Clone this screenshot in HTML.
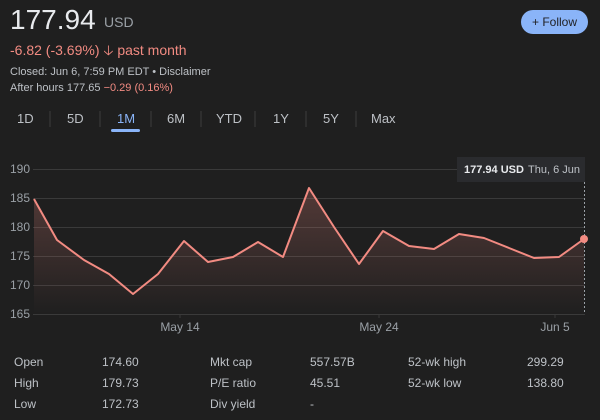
<!DOCTYPE html>
<html><head><meta charset="utf-8"><style>
body{margin:0;width:600px;height:420px;background:#1f1f1f;font-family:"Liberation Sans",Arial,sans-serif;overflow:hidden;position:relative}
.a{position:absolute;white-space:nowrap}
</style></head><body>
<div class="a" style="left:10px;top:4px;font-size:28px;color:#e8eaed">177.94</div>
<div class="a" style="left:104px;top:14px;font-size:14px;color:#9aa0a6">USD</div>
<div class="a" style="left:10px;top:40px;font-size:14px;color:#f28b82">-6.82 (-3.69%) &#129123; past month</div>
<div class="a" style="left:10px;top:66px;font-size:11px;color:#bdc1c6">Closed: Jun 6, 7:59 PM EDT • Disclaimer</div>
<div class="a" style="left:10px;top:82px;font-size:11px;color:#bdc1c6">After hours 177.65 <span style="color:#f28b82">−0.29 (0.16%)</span></div>
<div class="a" style="left:521px;top:10px;width:67px;height:24px;border-radius:12px;background:#8ab4f8;color:#202124;font-size:12px;line-height:24px;text-align:center">+ Follow</div>
<div class="a" style="left:0;top:111px;font-size:13px;color:#bdc1c6;width:420px;height:20px">
<span class="a" style="left:17px">1D</span><span class="a" style="left:67px">5D</span><span class="a" style="left:117px;color:#8ab4f8">1M</span><span class="a" style="left:167px">6M</span><span class="a" style="left:216px">YTD</span><span class="a" style="left:273px">1Y</span><span class="a" style="left:323px">5Y</span><span class="a" style="left:371px">Max</span>
</div>
<div class="a" style="left:111px;top:129px;width:29px;height:3px;background:#8ab4f8;border-radius:2px"></div>
<svg class="a" style="left:0;top:0" width="600" height="420">
<g stroke="#3c3c3c" stroke-width="1">
<line x1="50" y1="111" x2="50" y2="127"/><line x1="100" y1="111" x2="100" y2="127"/><line x1="151" y1="111" x2="151" y2="127"/><line x1="201" y1="111" x2="201" y2="127"/><line x1="255" y1="111" x2="255" y2="127"/><line x1="306" y1="111" x2="306" y2="127"/><line x1="356" y1="111" x2="356" y2="127"/>
</g>
<defs><linearGradient id="g" x1="0" y1="0" x2="0" y2="1"><stop offset="0" stop-color="#f28b82" stop-opacity="0.25"/><stop offset="1" stop-color="#f28b82" stop-opacity="0"/></linearGradient></defs>
<g stroke="#3a3a3a" stroke-width="1">
<line x1="33" y1="169.5" x2="585" y2="169.5"/><line x1="33" y1="198.5" x2="585" y2="198.5"/><line x1="33" y1="227.5" x2="585" y2="227.5"/><line x1="33" y1="256.5" x2="585" y2="256.5"/><line x1="33" y1="285.5" x2="585" y2="285.5"/><line x1="33" y1="314.5" x2="585" y2="314.5"/>
<line x1="180" y1="314" x2="180" y2="318"/><line x1="379" y1="314" x2="379" y2="318"/><line x1="555" y1="314" x2="555" y2="318"/>
</g>
<g font-size="12" fill="#9aa0a6"><text x="10" y="173">190</text><text x="10" y="202">185</text><text x="10" y="231">180</text><text x="10" y="260">175</text><text x="10" y="289">170</text><text x="10" y="318">165</text>
<text x="180" y="331" text-anchor="middle">May 14</text><text x="379" y="331" text-anchor="middle">May 24</text><text x="555" y="331" text-anchor="middle">Jun 5</text></g>
<path d="M34,199 L57,240 84,260 109,274 133,294 158,274 184,241 208,262 233,257 258,242 283,257 309,188 334,227 359,264 383,231 409,246 434,249 459,234 484,238 509,248 534,258 559,257 584,239 L584,314 L34,314Z" fill="url(#g)"/>
<polyline points="34,199 57,240 84,260 109,274 133,294 158,274 184,241 208,262 233,257 258,242 283,257 309,188 334,227 359,264 383,231 409,246 434,249 459,234 484,238 509,248 534,258 559,257 584,239" fill="none" stroke="#f28b82" stroke-width="2" stroke-linejoin="round"/>
<line x1="584.5" y1="182" x2="584.5" y2="314" stroke="#9aa0a6" stroke-dasharray="2,2"/>
<circle cx="584" cy="239" r="4" fill="#f28b82"/>
<rect x="457" y="157" width="128" height="25" fill="#2a2b2e"/>
<text x="464" y="173" font-size="11" fill="#e8eaed" font-weight="bold">177.94 USD</text><text x="528" y="173" font-size="11" fill="#bdc1c6">Thu, 6 Jun</text>
<g font-size="12" fill="#bdc1c6">
<text x="14" y="366">Open</text><text x="102" y="366">174.60</text><text x="210" y="366">Mkt cap</text><text x="310" y="366">557.57B</text><text x="408" y="366">52-wk high</text><text x="527" y="366">299.29</text>
<text x="14" y="387">High</text><text x="102" y="387">179.73</text><text x="210" y="387">P/E ratio</text><text x="310" y="387">45.51</text><text x="408" y="387">52-wk low</text><text x="527" y="387">138.80</text>
<text x="14" y="408">Low</text><text x="102" y="408">172.73</text><text x="210" y="408">Div yield</text><text x="310" y="408">-</text>
</g>
</svg>
</body></html>
